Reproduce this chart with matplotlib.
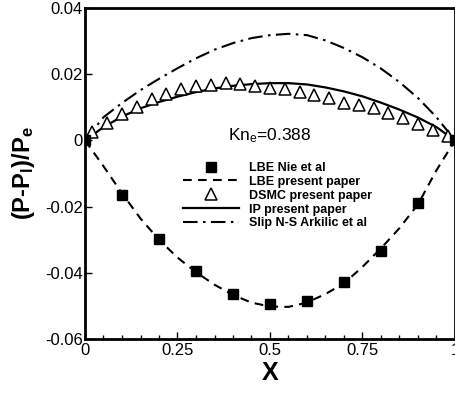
import matplotlib
matplotlib.use("Agg")
import matplotlib.pyplot as plt
from matplotlib.ticker import MultipleLocator, FormatStrFormatter

plt.rcParams['font.family'] = ['Liberation Sans', 'DejaVu Sans']
plt.rcParams['mathtext.default'] = 'regular'
plt.rcParams['axes.unicode_minus'] = False

# LBE Nie et al (squares)
x_nie = [0.0, 0.1, 0.2, 0.3, 0.4, 0.5, 0.6, 0.7, 0.8, 0.9, 1.0]
y_nie = [0.0, -0.0165, -0.0298, -0.0394, -0.0464, -0.0494, -0.0485, -0.0427, -0.0334, -0.0188, 0.0]

# DSMC present paper (triangles)
x_dsmc = [0.02, 0.06, 0.10, 0.14, 0.18, 0.22, 0.26, 0.30, 0.34, 0.38, 0.42, 0.46, 0.50,
          0.54, 0.58, 0.62, 0.66, 0.70, 0.74, 0.78, 0.82, 0.86, 0.90, 0.94, 0.98]
y_dsmc = [0.0026, 0.0052, 0.0079, 0.0102, 0.0125, 0.0139, 0.0154, 0.0164, 0.0167, 0.0172,
          0.0169, 0.0164, 0.0159, 0.0154, 0.0147, 0.0137, 0.0127, 0.0114, 0.0107, 0.0097,
          0.0082, 0.0067, 0.0050, 0.0031, 0.0014]

# curves
x_line = [0.0, 0.05, 0.1, 0.15, 0.2, 0.25, 0.3, 0.35, 0.4, 0.45, 0.5,
          0.55, 0.6, 0.65, 0.7, 0.75, 0.8, 0.85, 0.9, 0.95, 1.0]
y_lbe = [0.0, -0.0078, -0.0160, -0.0236, -0.0300, -0.0354, -0.0398, -0.0436, -0.0467, -0.0490, -0.0502,
         -0.0503, -0.0490, -0.0464, -0.0432, -0.0382, -0.0326, -0.0265, -0.0193, -0.0090, 0.0]
y_ip = [0.0, 0.0040, 0.0072, 0.0097, 0.0116, 0.0132, 0.0146, 0.0157, 0.0165, 0.0170, 0.0173,
        0.0173, 0.0169, 0.0160, 0.0148, 0.0133, 0.0114, 0.0093, 0.0069, 0.0040, 0.0]
y_slip = [0.0, 0.0070, 0.0113, 0.0152, 0.0186, 0.0218, 0.0248, 0.0274, 0.0294, 0.0309, 0.0318,
          0.0322, 0.0318, 0.0302, 0.0279, 0.0251, 0.0217, 0.0176, 0.0128, 0.0070, 0.0]

fig = plt.figure(figsize=(4.56, 3.98), dpi=100)
ax = fig.add_axes([85/456, 1 - 339/398, 370/456, 331/398])

ax.plot(x_nie, y_nie, 's', color='black', ms=6.5, label='LBE Nie et al', zorder=4)
ax.plot(x_line, y_lbe, color='black', lw=1.5, ls=(0, (4.2, 3)), label='LBE present paper')
ax.plot(x_dsmc, y_dsmc, '^', mfc='white', mec='black', mew=1.1, ms=8.5,
        label='DSMC present paper', zorder=3)
ax.plot(x_line, y_ip, color='black', lw=1.6, label='IP present paper')
ax.plot(x_line, y_slip, color='black', lw=1.5, ls=(0, (7, 2.6, 1.2, 2.6)),
        label='Slip N-S Arkilic et al')

ax.set_xlim(0, 1)
ax.set_ylim(-0.06, 0.04)
ax.xaxis.set_major_locator(MultipleLocator(0.25))
ax.xaxis.set_minor_locator(MultipleLocator(0.05))
ax.yaxis.set_major_locator(MultipleLocator(0.02))
ax.xaxis.set_major_formatter(FormatStrFormatter('%g'))
ax.yaxis.set_major_formatter(FormatStrFormatter('%g'))
ax.tick_params(which='both', direction='in', top=False, right=False, labelsize=12)
ax.tick_params(which='major', length=5, width=1)
ax.tick_params(which='minor', length=3, width=1)
ax.tick_params(axis='x', pad=3)
ax.tick_params(axis='y', pad=1.5)
for s in ax.spines.values():
    s.set_linewidth(2)

ax.set_xlabel('X', fontsize=18, fontweight='bold', labelpad=2)
ax.set_ylabel('(P-P$_l$)/P$_e$', fontsize=17, fontweight='bold', labelpad=6)

ax.text(0.386, 0.601, 'Kn$_e$=0.388', transform=ax.transAxes, fontsize=12.5,
        va='baseline', ha='left')

leg = ax.legend(loc='upper left', bbox_to_anchor=(0.265, 0.535), frameon=False,
                numpoints=1, handlelength=4.5, handletextpad=0.8, labelspacing=0.15,
                borderpad=0, borderaxespad=0, prop={'size': 9, 'weight': 'bold'})

fig.savefig('out.png', dpi=100)
